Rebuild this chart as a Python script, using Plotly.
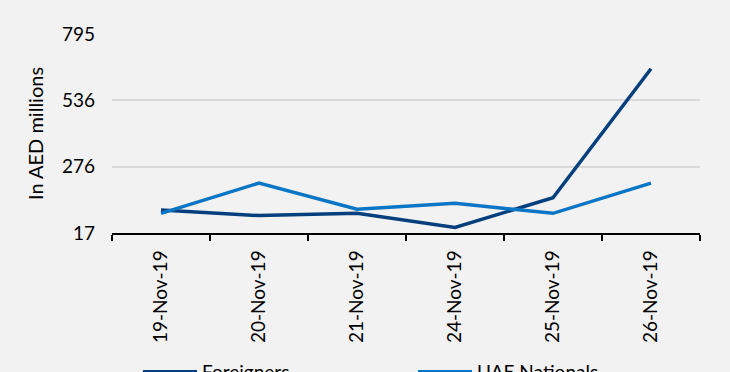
import plotly.graph_objects as go

dates = ["19-Nov-19", "20-Nov-19", "21-Nov-19", "24-Nov-19", "25-Nov-19", "26-Nov-19"]
foreigners = [107, 85, 94, 39, 155, 659]
uae_nationals = [94, 212, 110, 133, 94, 212]
y_tick_vals = [17, 276.33, 535.67, 795]
y_tick_text = ["17", "276", "536", "795"]

font_family = "Lato, 'Open Sans', sans-serif"

fig = go.Figure()
fig.add_trace(go.Scatter(x=dates, y=foreigners, mode="lines", name="Foreigners",
                         line=dict(color="#063F7D", width=3.5)))
fig.add_trace(go.Scatter(x=dates, y=uae_nationals, mode="lines", name="UAE Nationals",
                         line=dict(color="#0B76C6", width=3.5)))

fig.update_layout(
    width=730, height=372,
    margin=dict(l=112, r=30, t=34, b=139, autoexpand=False),
    paper_bgcolor="#F2F2F2", plot_bgcolor="#F2F2F2",
    font=dict(family=font_family, size=19, color="#000000"),
    showlegend=True,
    legend=dict(orientation="h", yref="container", y=-0.03, yanchor="middle",
                xref="container", x=138/730, xanchor="left",
                entrywidth=206, entrywidthmode="pixels", itemwidth=54,
                font=dict(size=19), bgcolor="rgba(0,0,0,0)"),
)
fig.update_xaxes(type="category", showline=True, linecolor="#000000", linewidth=1.5,
                 ticks="outside", tickson="boundaries", ticklen=6, tickcolor="#000000",
                 tickwidth=1.5, tickangle=-90, showgrid=False, ticklabelstandoff=8,
                 tickfont=dict(size=19), range=[-0.5, 5.5], automargin=False)
fig.update_yaxes(range=[17, 795], tickvals=y_tick_vals, ticktext=y_tick_text,
                 showgrid=True, gridcolor="#D9D9D9", gridwidth=1.5, zeroline=False,
                 showline=False, ticks="", ticklabelstandoff=16, automargin=False,
                 title=dict(text="In AED millions", standoff=12, font=dict(size=20)))

fig.write_html("out.html")
